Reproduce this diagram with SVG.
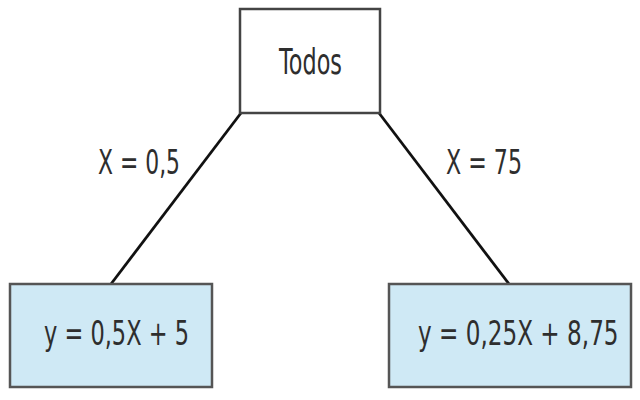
<svg xmlns="http://www.w3.org/2000/svg" width="640" height="400" viewBox="0 0 640 400">
<style>
.root{fill:#ffffff;stroke:#444444;stroke-width:2.5}
.leaf{fill:#cfe9f5;stroke:#555555;stroke-width:2.5}
.t{font-family:"DejaVu Sans",Verdana,sans-serif;fill:#2e2e2e}
.edge{stroke:#111111;stroke-width:2.8;fill:none}
</style>
<rect width="640" height="400" fill="#ffffff"/>
<g id="connectors">
<line class="edge" x1="241" y1="113" x2="111" y2="284"/>
<line class="edge" x1="379" y1="113" x2="509" y2="284"/>
<text class="t" x="98" y="174" font-size="33" textLength="82" lengthAdjust="spacingAndGlyphs">X = 0,5</text>
<text class="t" x="446" y="174" font-size="33" textLength="76" lengthAdjust="spacingAndGlyphs">X = 75</text>
</g>
<g id="node-todos">
<rect class="root" x="240" y="9" width="140" height="104"/>
<text class="t" x="279" y="74" font-size="35" textLength="63" lengthAdjust="spacingAndGlyphs">Todos</text>
</g>
<g id="node-left">
<rect class="leaf" x="10" y="284" width="202" height="103"/>
<text class="t" x="44" y="345" font-size="34" textLength="145" lengthAdjust="spacingAndGlyphs">y = 0,5X + 5</text>
</g>
<g id="node-right">
<rect class="leaf" x="389" y="284" width="242" height="103"/>
<text class="t" transform="translate(418,345) scale(0.68,1)" x="0" y="0" font-size="34">y = 0,25X + 8,75</text>
</g>
</svg>
